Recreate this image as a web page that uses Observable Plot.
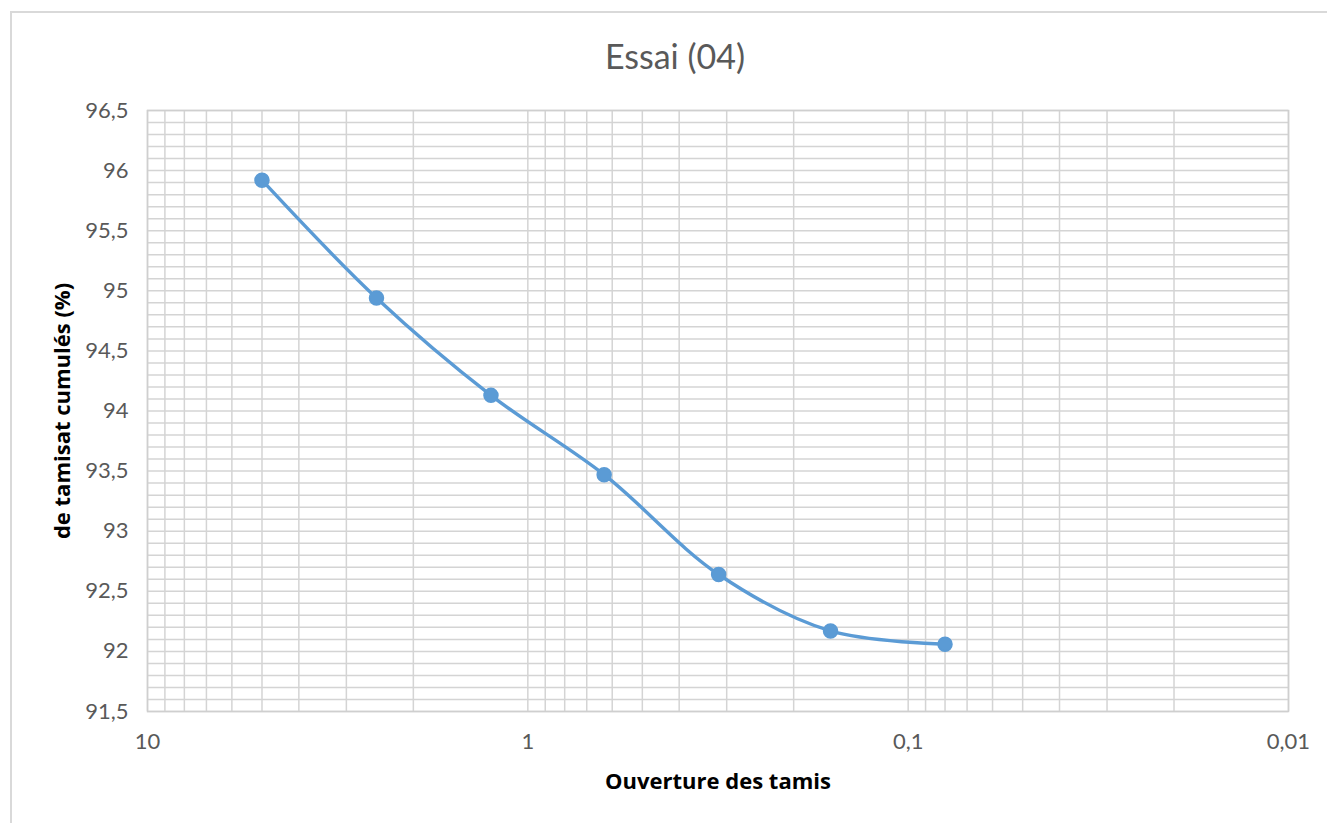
<!DOCTYPE html>
<html>
<head>
<meta charset="utf-8">
<script src="https://cdn.jsdelivr.net/npm/d3@7"></script>
<script src="https://cdn.jsdelivr.net/npm/@observablehq/plot@0.6"></script>
<style>
  html, body { margin: 0; padding: 0; background: #fff; }
  #wrap { position: relative; width: 1327px; height: 823px; overflow: hidden; font-family: Lato, "Open Sans", sans-serif; }
  #frame { position: absolute; left: 10px; top: 11px; width: 1400px; height: 900px; border: 2px solid #d9d9d9; box-sizing: border-box; }
  #title { position: absolute; left: 10px; width: 1330px; top: 35px; text-align: center; font-size: 34px; color: #595959; }
  #chart { position: absolute; left: 0; top: 0; }
</style>
</head>
<body>
<div id="wrap">
  <div id="frame"></div>
  <div id="chart"></div>
  <div id="title">Essai (04)</div>
</div>
<script>
// Sieve openings (mm) and cumulative passing (%)
const ouverture = [5, 2.5, 1.25, 0.63, 0.315, 0.16, 0.08];
const tamisat = [95.92, 94.94, 94.13, 93.47, 92.64, 92.17, 92.06];

const xTicks = [10, 1, 0.1, 0.01];
const yTicks = [91.5, 92, 92.5, 93, 93.5, 94, 94.5, 95, 95.5, 96, 96.5];
const xDomain = [10, 0.01];
const yDomain = [91.5, 96.5];

const data = ouverture.map((d, i) => ({x: d, y: tamisat[i]}));

const xGrid = d3.scaleLog().domain([0.01, 10]).ticks();
const yGrid = d3.ticks(yDomain[0], yDomain[1], 50);

const fmt = d => String(d).replace(".", ",");
const gridColor = "#d4d4d4";
const boldFont = "'Open Sans', Lato, sans-serif";

const chart = Plot.plot({
  width: 1327,
  height: 823,
  marginLeft: 147,
  marginRight: 39,
  marginTop: 110,
  marginBottom: 112,
  style: {fontFamily: "Lato, 'Open Sans', sans-serif", background: "transparent", overflow: "visible"},
  x: {type: "log", domain: xDomain, ticks: xTicks, tickFormat: fmt},
  y: {domain: yDomain, ticks: yTicks, tickFormat: fmt},
  marks: [
    Plot.ruleY(yGrid, {stroke: gridColor, strokeWidth: 1.5}),
    Plot.ruleX(xGrid, {stroke: gridColor, strokeWidth: 1.5}),
    Plot.frame({stroke: "#cfcfcf", strokeWidth: 1.5}),
    Plot.axisY({ticks: yTicks, tickFormat: fmt, tickSize: 0, tickPadding: 19, fontSize: 22, fill: "#595959", label: null}),
    Plot.axisX({ticks: xTicks, tickFormat: fmt, tickSize: 0, tickPadding: 22, fontSize: 22, fill: "#595959", label: null}),
    Plot.text(["Ouverture des tamis"], {frameAnchor: "bottom", dy: 77, fontSize: 22, fontWeight: "bold", fontFamily: boldFont, fill: "#000"}),
    Plot.text(["de tamisat cumulés (%)"], {frameAnchor: "left", textAnchor: "middle", dx: -85, rotate: -90, fontSize: 22, fontWeight: "bold", fontFamily: boldFont, fill: "#000"}),
    Plot.line(data, {x: "x", y: "y", stroke: "#5b9bd5", strokeWidth: 3.4, curve: "catmull-rom"}),
    Plot.dot(data, {x: "x", y: "y", r: 7, fill: "#5b9bd5", stroke: "#5b9bd5"})
  ]
});
document.getElementById("chart").appendChild(chart);
</script>
</body>
</html>
